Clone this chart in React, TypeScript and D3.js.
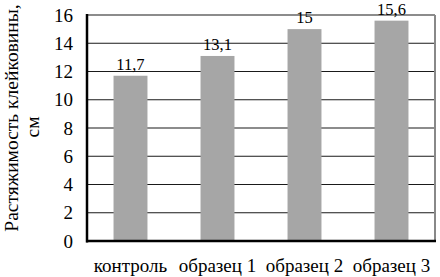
import React from "react";
import * as d3 from "d3";

const categories = ["контроль", "образец 1", "образец 2", "образец 3"];
const values = [11.7, 13.1, 15, 15.6];
const valueLabels = ["11,7", "13,1", "15", "15,6"];
const yTicks = [0, 2, 4, 6, 8, 10, 12, 14, 16];
const yTitle1 = "Растяжимость клейковины,";
const yTitle2 = "см";

export default function App() {
  const W = 440, H = 277;
  const left = 87, right = 435, top = 15, bottom = 241;
  const x = d3.scaleBand<string>().domain(categories).range([left, right]).paddingInner(0.61).paddingOuter(0.305);
  const y = d3.scaleLinear().domain([0, 16]).range([bottom, top]);
  const font = "Liberation Serif";
  return (
    <svg width={W} height={H} style={{ position: "absolute", left: 0, top: 0, background: "#fff" }}>
      <rect x={0} y={0} width={W} height={H} fill="#fff" />
      {yTicks.map((t) => (
        <line key={"g" + t} x1={left} x2={right} y1={y(t)} y2={y(t)} stroke="#1a1a1a" strokeWidth={1.2} />
      ))}
      {categories.map((c, i) => (
        <rect key={c} x={x(c)} y={y(values[i])} width={x.bandwidth()} height={bottom - y(values[i])} fill="#a6a6a6" />
      ))}
      <line x1={right} x2={right} y1={top} y2={bottom} stroke="#888" strokeWidth={2} />
      <line x1={left} x2={left} y1={top - 1} y2={bottom + 1.5} stroke="#000" strokeWidth={2.5} />
      <line x1={left - 1} x2={right + 1} y1={bottom} y2={bottom} stroke="#000" strokeWidth={2.5} />
      {yTicks.map((t) => (
        <text key={"t" + t} x={73} y={y(t)} dy="0.35em" textAnchor="end" fontFamily={font} fontSize={19} fill="#000">{t}</text>
      ))}
      {categories.map((c) => (
        <text key={"c" + c} x={x(c)! + x.bandwidth() / 2} y={272} textAnchor="middle" fontFamily={font} fontSize={19} fill="#000">{c}</text>
      ))}
      {categories.map((c, i) => (
        <text key={"v" + c} x={x(c)! + x.bandwidth() / 2} y={y(values[i]) - 6} textAnchor="middle" fontFamily={font} fontSize={16.5} fill="#000">{valueLabels[i]}</text>
      ))}
      <text transform="translate(18,118) rotate(-90)" textAnchor="middle" fontFamily={font} fontSize={19.5} fill="#000">{yTitle1}</text>
      <text transform="translate(39,127) rotate(-90)" textAnchor="middle" fontFamily={font} fontSize={19.5} fill="#000">{yTitle2}</text>
    </svg>
  );
}
